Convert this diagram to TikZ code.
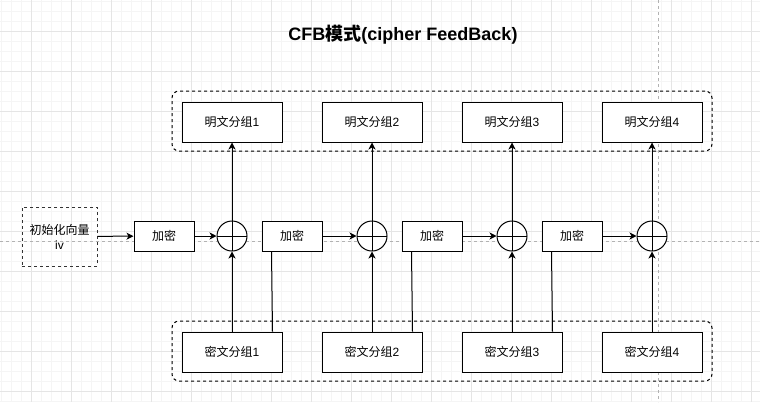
\documentclass[tikz,border=0pt]{standalone}
\usepackage{fontspec}
\setmainfont{Liberation Sans}
\newfontfamily\cjk{Noto Sans CJK SC}
\usepackage{tikz}
\usetikzlibrary{arrows.meta, positioning}

\begin{document}
\begin{tikzpicture}[x=1pt, y=-1pt, line width=1pt]
    % Define styles
    \tikzstyle{block} = [rectangle, draw=black, fill=white, minimum width=100pt, minimum height=40pt, font=\cjk\fontsize{12}{14}\selectfont]
    \tikzstyle{encbox} = [rectangle, draw=black, fill=white, minimum width=60pt, minimum height=30pt, font=\cjk\fontsize{12}{14}\selectfont]
    \tikzstyle{ivbox} = [rectangle, draw=black!80, dash pattern=on 3pt off 3pt, minimum width=75pt, minimum height=59pt, align=center, font=\cjk\fontsize{12}{15}\selectfont]
    \tikzstyle{xorop} = [circle, draw=black, fill=white, minimum size=30pt, inner sep=0pt, path picture={\draw (path picture bounding box.north) -- (path picture bounding box.south) (path picture bounding box.west) -- (path picture bounding box.east);}]
    \tikzstyle{group} = [rectangle, draw=black, rounded corners=7pt, dash pattern=on 3pt off 3pt, minimum width=540pt, minimum height=60pt]
    \tikzstyle{flow} = [-{Stealth[length=7pt, width=7pt, inset=2pt]}]

    % Canvas and grid
    \useasboundingbox (0,0) rectangle (760,402);
    \fill[white] (0,0) rectangle (760,402);
    \foreach \g in {1,11,...,760} \draw[line width=0.8pt, black!4] (\g,0) -- (\g,402);
    \foreach \g in {1,11,...,402} \draw[line width=0.8pt, black!4] (0,\g) -- (760,\g);
    \foreach \g in {31,71,...,760} \draw[line width=0.8pt, black!10] (\g,0) -- (\g,402);
    \foreach \g in {31,71,...,402} \draw[line width=0.8pt, black!10] (0,\g) -- (760,\g);
    \draw[line width=0.8pt, black!30, dash pattern=on 3pt off 3pt] (0,241) -- (760,241);
    \draw[line width=0.8pt, black!30, dash pattern=on 3pt off 3pt] (658,0) -- (658,402);

    % Title
    \node[font=\bfseries\fontsize{18}{22}\selectfont] (title) at (403,35) {CFB{\cjk\bfseries 模式}(cipher FeedBack)};

    % Plaintext row
    \node[group] (plainrow) at (442,121) {};
    \node[block] (p1) at (232,122) {明文分组{\rmfamily 1}};
    \node[block] (p2) at (372,122) {明文分组{\rmfamily 2}};
    \node[block] (p3) at (512,122) {明文分组{\rmfamily 3}};
    \node[block] (p4) at (652,122) {明文分组{\rmfamily 4}};

    % Ciphertext row
    \node[group] (cipherrow) at (442,351) {};
    \node[block] (c1) at (232,352) {密文分组{\rmfamily 1}};
    \node[block] (c2) at (372,352) {密文分组{\rmfamily 2}};
    \node[block] (c3) at (512,352) {密文分组{\rmfamily 3}};
    \node[block] (c4) at (652,352) {密文分组{\rmfamily 4}};

    % Middle chain
    \node[ivbox] (iv) at (59.5,236.5) {初始化向量\\{\rmfamily iv}};
    \node[encbox] (enc1) at (164,236) {加密};
    \node[encbox] (enc2) at (292,236) {加密};
    \node[encbox] (enc3) at (432,236) {加密};
    \node[encbox] (enc4) at (572,236) {加密};
    \node[xorop] (x1) at (232,236) {};
    \node[xorop] (x2) at (372,236) {};
    \node[xorop] (x3) at (512,236) {};
    \node[xorop] (x4) at (652,236) {};

    \draw[flow] (iv) -- (enc1);
    \draw[flow] (enc1) -- (x1);
    \draw[flow] (enc2) -- (x2);
    \draw[flow] (enc3) -- (x3);
    \draw[flow] (enc4) -- (x4);

    \draw[flow] (x1) -- (p1);
    \draw[flow] (x2) -- (p2);
    \draw[flow] (x3) -- (p3);
    \draw[flow] (x4) -- (p4);

    \draw[flow] (c1) -- (x1);
    \draw[flow] (c2) -- (x2);
    \draw[flow] (c3) -- (x3);
    \draw[flow] (c4) -- (x4);

    % Feedback of ciphertext into next encryption
    \draw ([xshift=-10pt]c1.north east) -- ([xshift=10pt]enc2.south west);
    \draw ([xshift=-10pt]c2.north east) -- ([xshift=10pt]enc3.south west);
    \draw ([xshift=-10pt]c3.north east) -- ([xshift=10pt]enc4.south west);

\end{tikzpicture}
\end{document}
